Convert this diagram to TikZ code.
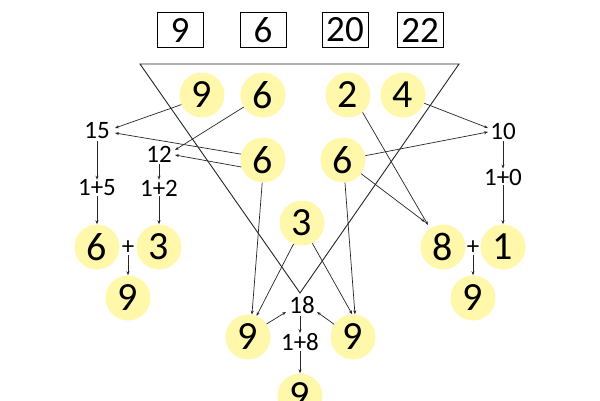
\documentclass[tikz,border=0pt]{standalone}
\usepackage{fontspec}
\setmainfont{Carlito}
\usetikzlibrary{arrows.meta}
\definecolor{circfill}{RGB}{255,248,170}
\begin{document}
\begin{tikzpicture}[x=1pt,y=-1pt,
  circ/.style={circle, fill=circfill, minimum size=45pt, inner sep=0pt, font=\fontsize{40}{40}\selectfont},
  boxn/.style={draw, line width=0.9pt, minimum width=46pt, minimum height=35pt, inner sep=0pt, font=\fontsize{37}{37}\selectfont},
  lbl/.style={inner sep=0pt, font=\fontsize{25}{25}\selectfont},
  conn/.style={line width=0.7pt, draw=black!85},
  arr/.style={conn, -{Stealth[length=4pt,width=3pt]}}]
\useasboundingbox (0,0) rectangle (600,400);
\fill[white] (0,0) rectangle (600,400);
% top boxes
\node[boxn] (b1) at (180,30) {9};
\node[boxn] (b2) at (263,30) {6};
\node[boxn] (b3) at (345,30) {20};
\node[boxn] (b4) at (420,30) {22};
% triangle
\coordinate (tl) at (140,64);
\coordinate (tr) at (459,64);
\coordinate (ta) at (300,293);
\draw[conn, line width=0.9pt] (tl) -- (tr) -- (ta) -- cycle;
% circles
\node[circ] (c9a) at (202,95) {9};
\node[circ] (c6a) at (263,95) {6};
\node[circ] (c6m) at (263,160) {6};
\node[circ] (c2) at (348,95) {2};
\node[circ] (c4) at (403,95) {4};
\node[circ] (c6r) at (343,160) {6};
\node[circ] (c3) at (302,223) {3};
\node[circ] (c8) at (443,247) {8};
\node[circ] (c1) at (503,247) {1};
\node[circ] (c9r) at (473,298) {9};
\node[circ] (c6l) at (97,247) {6};
\node[circ] (c3l) at (159,247) {3};
\node[circ] (c9l) at (128,298) {9};
\node[circ] (c9L) at (248,337) {9};
\node[circ] (c9R) at (353,337) {9};
\node[circ] (c9B) at (300,396) {9};
% labels
\node[lbl] (n15) at (97,131) {15};
\node[lbl] (s15) at (97,188) {1+5};
\node[lbl] (n12) at (159,154) {12};
\node[lbl] (s12) at (159,188) {1+2};
\node[lbl] (n10) at (503,131) {10};
\node[lbl] (s10) at (503,177) {1+0};
\node[lbl] (n18) at (302,305) {18};
\node[lbl] (s18) at (300,342) {1+8};
\node[lbl] (pl) at (128,248) {+};
\node[lbl] (pr) at (473,248) {+};
% arrow tip points
\coordinate (p15a) at (115,128);
\coordinate (p15b) at (115,133);
\coordinate (p12a) at (175,150);
\coordinate (p12b) at (175,155);
\coordinate (p10a) at (488,128);
\coordinate (p10b) at (488,132);
\coordinate (p8a) at (428,225);
\coordinate (p8b) at (425,222);
\coordinate (p18a) at (286,312);
\coordinate (p18b) at (317,312);
% connectors to 15, 12
\draw[arr] (c9a.205) -- (p15a);
\draw[arr] (c6m.165) -- (p15b);
\draw[arr] (c6a) -- (p12a);
\draw[arr] (c6m.198) -- (p12b);
% connectors to 10
\draw[arr] (c4) -- (p10a);
\draw[arr] (c6r) -- (p10b);
% connectors to 8
\draw[arr] (c2.-50) -- (p8a);
\draw[arr] (c6r) -- (p8b);
% vertical chains
\draw[arr] (n15.south) ++(0,2) -- (s15.north);
\draw[arr] (s15.south) -- (c6l.north);
\draw[arr] (n12.south) ++(0,2) -- (s12.north);
\draw[arr] (s12.south) -- (c3l.north);
\draw[arr] (n10.south) ++(0,2) -- (s10.north);
\draw[arr] (s10.south) -- (c1.north);
\draw[arr] (pl.south) -- (c9l.north);
\draw[arr] (pr.south) -- (c9r.north);
% centre
\draw[arr] (c6m.268) -- (c9L.80);
\draw[arr] (c3.-112) -- (c9L.68);
\draw[arr] (c3.-63) -- (c9R.92);
\draw[arr] (c6r.-85) -- (c9R.85);
\draw[arr] (c9L.35) -- (p18a);
\draw[arr] (c9R.146) -- (p18b);
\draw[arr] (n18.south) ++(-2,2) -- (s18.north);
\draw[arr] (s18.south) -- (c9B.north);
\end{tikzpicture}
\end{document}
